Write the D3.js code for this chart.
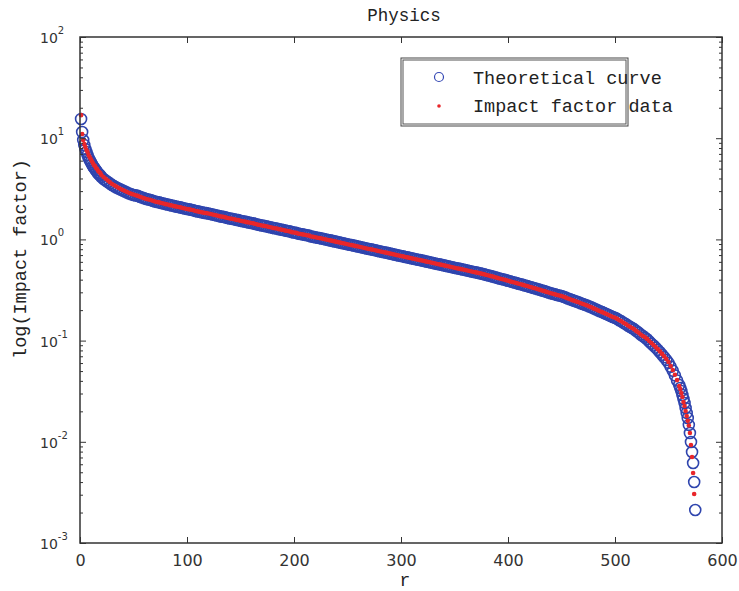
<!DOCTYPE html>
<html>
<head>
<meta charset="utf-8">
<script src="https://cdn.jsdelivr.net/npm/d3@7"></script>
<style>
  body { margin: 0; background: #fff; }
  svg { display: block; background: #fff; }
  .mono { font-family: "Liberation Mono", "Courier New", monospace; fill: #222; }
  .num { font-family: "DejaVu Sans", sans-serif; fill: #333; }
  .axis line { stroke: #333; }
</style>
</head>
<body>
<svg width="739" height="591"></svg>
<script>
// rank of each journal (x)
var ranks = [
  1, 2, 3, 4, 5, 6, 7, 8, 9, 10, 11, 12, 13, 14, 15, 16, 17, 18, 19, 20,
  22, 24, 26, 28, 30, 32, 34, 36, 38, 40, 42, 44, 46, 48, 50, 52, 54, 56, 58, 60,
  62, 64, 66, 68, 70, 72, 74, 76, 78, 80, 82, 84, 86, 88, 90, 92, 94, 96, 98, 100,
  102, 104, 106, 108, 110, 112, 114, 116, 118, 120, 122, 124, 126, 128, 130, 132, 134, 136, 138, 140,
  142, 144, 146, 148, 150, 152, 154, 156, 158, 160, 162, 164, 166, 168, 170, 172, 174, 176, 178, 180,
  182, 184, 186, 188, 190, 192, 194, 196, 198, 200, 202, 204, 206, 208, 210, 212, 214, 216, 218, 220,
  222, 224, 226, 228, 230, 232, 234, 236, 238, 240, 242, 244, 246, 248, 250, 252, 254, 256, 258, 260,
  262, 264, 266, 268, 270, 272, 274, 276, 278, 280, 282, 284, 286, 288, 290, 292, 294, 296, 298, 300,
  302, 304, 306, 308, 310, 312, 314, 316, 318, 320, 322, 324, 326, 328, 330, 332, 334, 336, 338, 340,
  342, 344, 346, 348, 350, 352, 354, 356, 358, 360, 362, 364, 366, 368, 370, 372, 374, 376, 378, 380,
  382, 384, 386, 388, 390, 392, 394, 396, 398, 400, 402, 404, 406, 408, 410, 412, 414, 416, 418, 420,
  422, 424, 426, 428, 430, 432, 434, 436, 438, 440, 442, 444, 446, 448, 450, 452, 454, 456, 458, 460,
  462, 464, 466, 468, 470, 472, 474, 476, 478, 480, 482, 484, 486, 488, 490, 492, 494, 496, 498, 500,
  502, 504, 506, 508, 510, 512, 514, 516, 518, 520, 522, 524, 526, 528, 530, 532, 534, 536, 538, 540,
  542, 544, 546, 548, 550, 552, 554, 556, 558,
  560, 561, 562, 563, 564, 565, 566, 567, 568, 569, 570, 571, 572, 573, 574, 575
];

// theoretical curve (blue circles)
var theoryValues = [
  15.5, 11.5, 9.59, 8.57, 7.82, 7.31, 6.82, 6.37, 6.09, 5.82, 5.56, 5.31, 5.13, 4.96, 4.80, 4.63, 4.48, 4.38, 4.28, 4.14,
  3.95, 3.82, 3.69, 3.57, 3.45, 3.35, 3.26, 3.18, 3.11, 3.04, 2.97, 2.90, 2.84, 2.79, 2.75, 2.72, 2.69, 2.64, 2.59, 2.55,
  2.51, 2.48, 2.45, 2.41, 2.37, 2.34, 2.32, 2.29, 2.26, 2.23, 2.21, 2.18, 2.16, 2.13, 2.11, 2.09, 2.07, 2.04, 2.02, 2.00,
  1.98, 1.96, 1.94, 1.91, 1.89, 1.87, 1.85, 1.83, 1.82, 1.80, 1.78, 1.76, 1.74, 1.72, 1.70, 1.68, 1.67, 1.65, 1.63, 1.61,
  1.60, 1.58, 1.56, 1.55, 1.53, 1.51, 1.50, 1.48, 1.47, 1.45, 1.44, 1.42, 1.40, 1.39, 1.37, 1.36, 1.35, 1.33, 1.32, 1.30,
  1.29, 1.28, 1.26, 1.25, 1.24, 1.22, 1.21, 1.20, 1.18, 1.17, 1.16, 1.14, 1.13, 1.12, 1.11, 1.10, 1.09, 1.07, 1.06, 1.05,
  1.04, 1.03, 1.02, 1.01, 0.998, 0.987, 0.977, 0.966, 0.955, 0.945, 0.935, 0.925, 0.916, 0.906, 0.896, 0.886, 0.877, 0.868, 0.859, 0.850,
  0.841, 0.831, 0.822, 0.813, 0.805, 0.797, 0.789, 0.780, 0.771, 0.763, 0.755, 0.747, 0.740, 0.732, 0.724, 0.716, 0.708, 0.700, 0.693, 0.686,
  0.679, 0.671, 0.664, 0.657, 0.650, 0.643, 0.637, 0.630, 0.624, 0.617, 0.610, 0.603, 0.597, 0.591, 0.585, 0.578, 0.572, 0.566, 0.560, 0.554,
  0.548, 0.542, 0.537, 0.531, 0.525, 0.519, 0.514, 0.509, 0.504, 0.498, 0.492, 0.487, 0.482, 0.477, 0.472, 0.467, 0.462, 0.456, 0.451, 0.445,
  0.440, 0.434, 0.429, 0.423, 0.417, 0.411, 0.406, 0.401, 0.396, 0.390, 0.385, 0.380, 0.375, 0.370, 0.365, 0.360, 0.355, 0.350, 0.346, 0.341,
  0.336, 0.331, 0.327, 0.322, 0.317, 0.312, 0.308, 0.303, 0.299, 0.294, 0.290, 0.286, 0.282, 0.279, 0.276, 0.271, 0.266, 0.261, 0.256, 0.251,
  0.247, 0.243, 0.239, 0.234, 0.230, 0.226, 0.222, 0.217, 0.213, 0.208, 0.204, 0.199, 0.195, 0.191, 0.187, 0.183, 0.179, 0.175, 0.171, 0.168,
  0.164, 0.159, 0.155, 0.150, 0.146, 0.141, 0.137, 0.133, 0.129, 0.124, 0.120, 0.115, 0.111, 0.107, 0.103, 0.0980, 0.0934, 0.0893, 0.0852, 0.0810,
  0.0767, 0.0725, 0.0684, 0.0643, 0.0602, 0.0551, 0.0503, 0.0453, 0.0404,
  0.0364, 0.0340, 0.0318, 0.0290, 0.0265, 0.0242, 0.0216, 0.0193, 0.0172, 0.0147, 0.0122, 0.00995, 0.00792, 0.00617, 0.00401, 0.00212
];

// impact factor data (red dots)
var impactValues = [
  16.9, 11.0, 9.59, 8.76, 8.19, 7.64, 7.31, 6.82, 6.52, 6.23, 5.95, 5.69, 5.43, 5.31, 5.07, 4.96, 4.74, 4.63, 4.53, 4.33,
  4.14, 3.97, 3.82, 3.67, 3.53, 3.43, 3.33, 3.24, 3.15, 3.08, 3.01, 2.94, 2.87, 2.82, 2.78, 2.73, 2.69, 2.64, 2.59, 2.55,
  2.51, 2.48, 2.45, 2.41, 2.37, 2.34, 2.32, 2.29, 2.26, 2.23, 2.21, 2.18, 2.16, 2.13, 2.11, 2.09, 2.07, 2.04, 2.02, 2.00,
  1.98, 1.96, 1.94, 1.91, 1.89, 1.87, 1.85, 1.83, 1.82, 1.80, 1.78, 1.76, 1.74, 1.72, 1.70, 1.68, 1.67, 1.65, 1.63, 1.61,
  1.60, 1.58, 1.56, 1.55, 1.53, 1.51, 1.50, 1.48, 1.47, 1.45, 1.44, 1.42, 1.40, 1.39, 1.37, 1.36, 1.35, 1.33, 1.32, 1.30,
  1.29, 1.28, 1.26, 1.25, 1.24, 1.22, 1.21, 1.20, 1.18, 1.17, 1.16, 1.14, 1.13, 1.12, 1.11, 1.10, 1.09, 1.07, 1.06, 1.05,
  1.04, 1.03, 1.02, 1.01, 0.998, 0.987, 0.977, 0.966, 0.955, 0.945, 0.935, 0.925, 0.916, 0.906, 0.896, 0.886, 0.877, 0.868, 0.859, 0.850,
  0.841, 0.831, 0.822, 0.813, 0.805, 0.797, 0.789, 0.780, 0.771, 0.763, 0.755, 0.747, 0.740, 0.732, 0.724, 0.716, 0.708, 0.700, 0.693, 0.686,
  0.679, 0.671, 0.664, 0.657, 0.650, 0.643, 0.637, 0.630, 0.624, 0.617, 0.610, 0.603, 0.597, 0.591, 0.585, 0.578, 0.572, 0.566, 0.560, 0.554,
  0.548, 0.542, 0.537, 0.531, 0.525, 0.519, 0.514, 0.509, 0.504, 0.498, 0.492, 0.487, 0.482, 0.477, 0.472, 0.467, 0.462, 0.456, 0.451, 0.445,
  0.440, 0.434, 0.429, 0.423, 0.417, 0.411, 0.406, 0.401, 0.396, 0.390, 0.385, 0.380, 0.375, 0.370, 0.365, 0.360, 0.355, 0.350, 0.346, 0.341,
  0.336, 0.331, 0.327, 0.322, 0.317, 0.312, 0.308, 0.303, 0.299, 0.294, 0.290, 0.286, 0.282, 0.279, 0.276, 0.271, 0.266, 0.261, 0.256, 0.251,
  0.247, 0.243, 0.239, 0.234, 0.230, 0.226, 0.222, 0.217, 0.213, 0.208, 0.204, 0.199, 0.195, 0.191, 0.187, 0.183, 0.179, 0.175, 0.171, 0.168,
  0.164, 0.159, 0.155, 0.150, 0.146, 0.141, 0.137, 0.133, 0.129, 0.124, 0.120, 0.115, 0.111, 0.108, 0.104, 0.0992, 0.0946, 0.0905, 0.0865, 0.0823,
  0.0782, 0.0739, 0.0698, 0.0657, 0.0615, 0.0562, 0.0512, 0.0460, 0.0407,
  0.0356, 0.0332, 0.0303, 0.0277, 0.0247, 0.0226, 0.0201, 0.0180, 0.0161, 0.0145, 0.0122, 0.00929, 0.00708, 0.00492, 0.00305, null
];

var xTicks = [0, 100, 200, 300, 400, 500, 600];
var yExponents = [2, 1, 0, -1, -2, -3];
var yMinorSteps = [2, 3, 4, 5, 6, 7, 8, 9];

(function () {
  var svg = d3.select('svg');
  var mLeft = 80, mRight = 722, mTop = 37, mBottom = 543;

  var x = d3.scaleLinear().domain([0, 600]).range([mLeft, mRight]);
  var y = d3.scaleLog().domain([1e-3, 1e2]).range([mBottom, mTop]);

  var majors = yExponents.map(function (e) { return Math.pow(10, e); });
  var minors = [];
  yExponents.forEach(function (e) {
    if (e < 2) yMinorSteps.forEach(function (m) { minors.push(m * Math.pow(10, e)); });
  });

  var theory = ranks.map(function (r, i) { return {r: r, v: theoryValues[i]}; });
  var data = ranks.map(function (r, i) { return {r: r, v: impactValues[i]}; })
    .filter(function (d) { return d.v != null; });

  // markers
  var plot = svg.append('g');
  plot.selectAll('circle.theory').data(theory)
    .enter().append('circle')
      .attr('class', 'theory')
      .attr('cx', function (d) { return x(d.r); })
      .attr('cy', function (d) { return y(d.v); })
      .attr('r', 5.5)
      .attr('fill', 'none')
      .attr('stroke', '#2f45ae')
      .attr('stroke-width', 1.6);

  plot.selectAll('circle.data').data(data)
    .enter().append('circle')
      .attr('class', 'data')
      .attr('cx', function (d) { return x(d.r); })
      .attr('cy', function (d) { return y(d.v); })
      .attr('r', 2.3)
      .attr('fill', '#e8262a');

  // axes, ticks inside on all four sides
  svg.append('g').attr('class', 'axis').attr('transform', 'translate(0,' + mBottom + ')')
    .call(d3.axisBottom(x).tickValues(xTicks).tickSizeInner(-6).tickSizeOuter(0).tickPadding(12))
    .call(function (g) {
      g.select('.domain').remove();
      g.selectAll('text').attr('class', 'num').style('font-size', '16px').attr('font-family', null);
    });
  svg.append('g').attr('class', 'axis').attr('transform', 'translate(0,' + mTop + ')')
    .call(d3.axisTop(x).tickValues(xTicks).tickSizeInner(-6).tickSizeOuter(0).tickFormat(''))
    .call(function (g) { g.select('.domain').remove(); });

  [[d3.axisLeft, mLeft], [d3.axisRight, mRight]].forEach(function (a) {
    svg.append('g').attr('class', 'axis').attr('transform', 'translate(' + a[1] + ',0)')
      .call(a[0](y).tickValues(majors).tickSizeInner(-6).tickSizeOuter(0).tickFormat(''))
      .call(function (g) { g.select('.domain').remove(); });
    svg.append('g').attr('class', 'axis').attr('transform', 'translate(' + a[1] + ',0)')
      .call(a[0](y).tickValues(minors).tickSizeInner(-3).tickSizeOuter(0).tickFormat(''))
      .call(function (g) { g.select('.domain').remove(); });
  });

  // y tick labels 10^n
  var ylab = svg.append('g').selectAll('text').data(yExponents)
    .enter().append('text')
      .attr('class', 'num')
      .attr('x', 40)
      .attr('y', function (e) { return y(Math.pow(10, e)) + 6; })
      .style('font-size', '14px')
      .text('10');
  ylab.append('tspan')
    .attr('dy', -9)
    .style('font-size', '10px')
    .text(function (e) { return String(e); });

  // frame
  svg.append('rect')
    .attr('x', mLeft).attr('y', mTop)
    .attr('width', mRight - mLeft).attr('height', mBottom - mTop)
    .attr('fill', 'none').attr('stroke', '#333').attr('stroke-width', 1.5);

  // labels
  svg.append('text').attr('class', 'mono')
    .attr('x', 404).attr('y', 21).attr('text-anchor', 'middle')
    .style('font-size', '17.5px').text('Physics');
  svg.append('text').attr('class', 'mono')
    .attr('x', 405).attr('y', 586).attr('text-anchor', 'middle')
    .style('font-size', '18px').text('r');
  svg.append('text').attr('class', 'mono')
    .attr('transform', 'translate(26,259) rotate(-90)').attr('text-anchor', 'middle')
    .style('font-size', '18.5px').text('log(Impact factor)');

  // legend
  var legend = svg.append('g');
  legend.append('rect').attr('x', 401).attr('y', 58).attr('width', 227).attr('height', 68)
    .attr('fill', '#fff').attr('stroke', '#444').attr('stroke-width', 1);
  legend.append('rect').attr('x', 403).attr('y', 60).attr('width', 223).attr('height', 64)
    .attr('fill', 'none').attr('stroke', '#555').attr('stroke-width', 1);
  legend.append('circle').attr('cx', 439).attr('cy', 77).attr('r', 4.5)
    .attr('fill', 'none').attr('stroke', '#3548b4').attr('stroke-width', 1.2);
  legend.append('circle').attr('cx', 439).attr('cy', 106).attr('r', 1.8)
    .attr('fill', '#e8262a');
  legend.append('text').attr('class', 'mono').attr('x', 473).attr('y', 84)
    .style('font-size', '18.5px').text('Theoretical curve');
  legend.append('text').attr('class', 'mono').attr('x', 473).attr('y', 112)
    .style('font-size', '18.5px').text('Impact factor data');
})();
</script>
</body>
</html>
